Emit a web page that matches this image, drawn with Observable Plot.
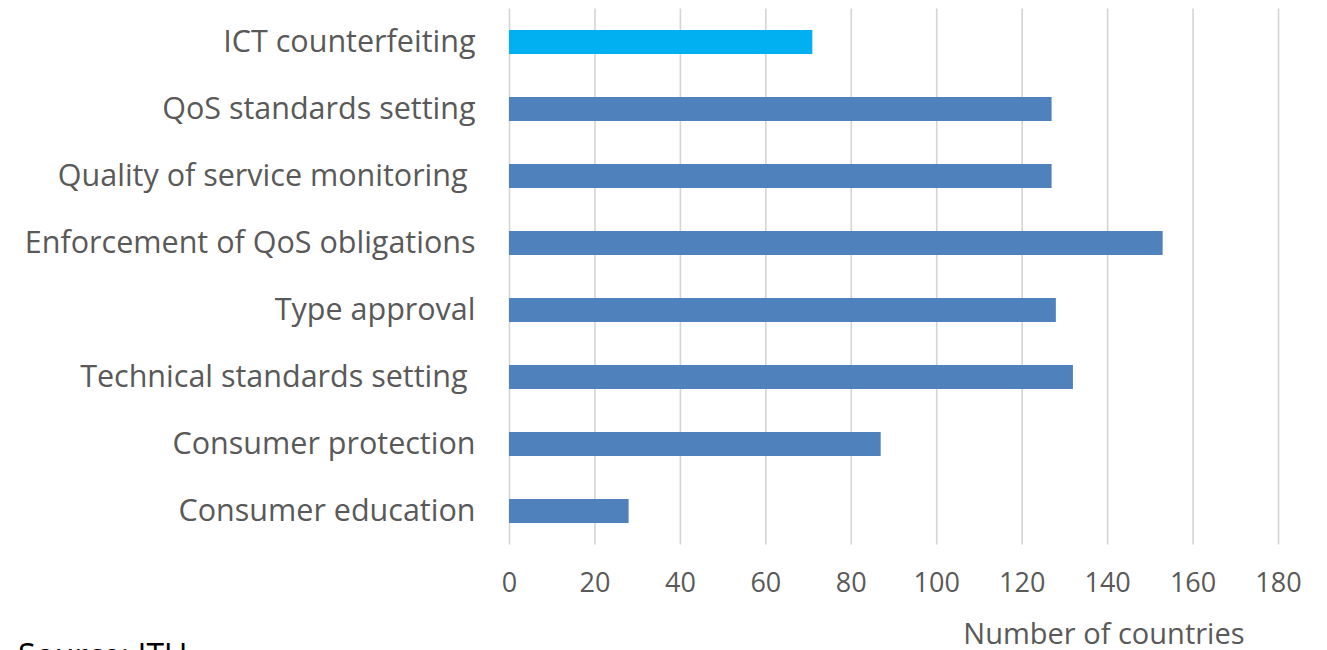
<!DOCTYPE html>
<html>
<head>
<meta charset="utf-8">
<script src="https://cdn.jsdelivr.net/npm/d3@7"></script>
<script src="https://cdn.jsdelivr.net/npm/@observablehq/plot@0.6"></script>
<style>
  html, body { margin: 0; padding: 0; background: #fff; overflow: hidden; }
  #wrap { position: relative; width: 1327px; height: 650px; overflow: hidden; }
  #source { position: absolute; left: 18px; top: 636px; line-height: 1.2; font-family: "Open Sans", sans-serif; font-size: 32px; color: #000; white-space: nowrap; }
  svg text { white-space: pre; }
</style>
</head>
<body>
<div id="wrap"><div id="chart"></div><div id="source"></div></div>
<script>
const categories = [
  "ICT counterfeiting",
  "QoS standards setting",
  "Quality of service monitoring ",
  "Enforcement of QoS obligations",
  "Type approval",
  "Technical standards setting ",
  "Consumer protection",
  "Consumer education"
];
const values = [71, 127, 127, 153, 128, 132, 87, 28];
const barColors = ["#00B0F0", "#4F81BD", "#4F81BD", "#4F81BD", "#4F81BD", "#4F81BD", "#4F81BD", "#4F81BD"];
const xTicks = [0, 20, 40, 60, 80, 100, 120, 140, 160, 180];
const xLabel = "Number of countries";
const sourceText = "Source: ITU";

const data = categories.map((c, i) => ({category: c, value: values[i], color: barColors[i]}));

const chart = Plot.plot({
  width: 1327,
  height: 650,
  marginTop: 8.5,
  marginBottom: 105.5,
  marginLeft: 509,
  marginRight: 49,
  style: {fontFamily: "'Open Sans', sans-serif", color: "#595959", background: "#fff"},
  x: {domain: [0, 180], ticks: xTicks, label: null},
  y: {domain: categories, paddingInner: 0.64, paddingOuter: 0.32, label: null},
  marks: [
    Plot.gridX(xTicks, {stroke: "#d4d4d4", strokeOpacity: 1, strokeWidth: 1.6}),
    Plot.barX(data, {y: "category", x: "value", fill: "color"}),
    Plot.axisX({ticks: xTicks, tickSize: 0, tickPadding: 28, fontSize: 27, fill: "#595959", label: null}),
    Plot.axisY({tickSize: 0, tickPadding: 34, fontSize: 30.5, fill: "#595959", label: null}),
    Plot.text([xLabel], {frameAnchor: "bottom-right", dx: -34, dy: 90, textAnchor: "end", lineAnchor: "middle", fontSize: 29, fill: "#595959"})
  ]
});
document.getElementById("chart").appendChild(chart);
document.getElementById("source").textContent = sourceText;
</script>
</body>
</html>
